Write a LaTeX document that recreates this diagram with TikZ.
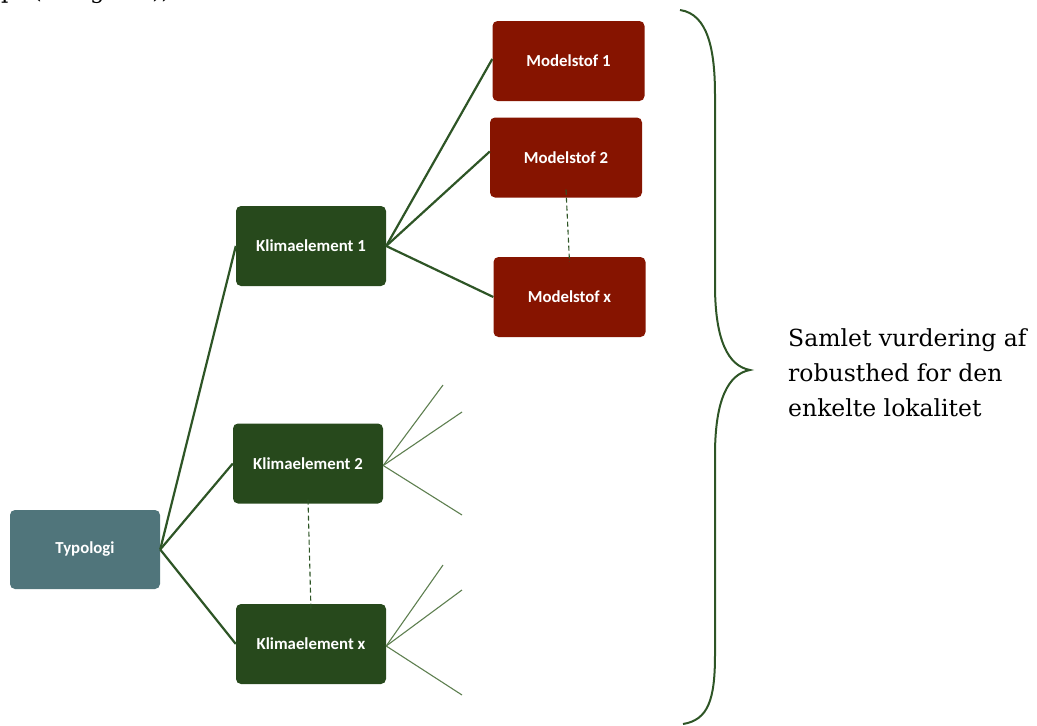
\documentclass[tikz,border=0pt]{standalone}
\usepackage{fontspec}
\newfontfamily\boxfont{Carlito}
\newfontfamily\notefont{DejaVu Serif}
\definecolor{typo}{HTML}{50757B}
\definecolor{klima}{HTML}{27491C}
\definecolor{model}{HTML}{861400}
\definecolor{link}{HTML}{2E5526}
\definecolor{twig}{HTML}{5E7F50}
\tikzset{
  box/.style={rounded corners=5pt, minimum width=150pt, minimum height=80pt,
    text=white, font=\boxfont\bfseries\fontsize{16.8}{19}\selectfont, inner sep=0pt},
  typobox/.style={box, fill=typo, minimum height=79pt},
  klimabox/.style={box, fill=klima},
  modelbox/.style={box, fill=model, minimum width=152pt},
  branch/.style={draw=link, line width=2.2pt},
  twigline/.style={draw=twig, line width=1.1pt},
  gap/.style={draw=link, line width=1.1pt, dash pattern=on 5pt off 3pt},
}
\begin{document}
\begin{tikzpicture}[x=1pt,y=-1pt]
\useasboundingbox (0,0) rectangle (1037,726);

% running text of the page above the figure (only its lower edge is on the page)
\node[anchor=base west, inner sep=0pt, font=\notefont\fontsize{23}{28}\selectfont] (pagetext) at (1,-1.5) {p. (se figur 4)).};

% nodes
\node[typobox] (typ) at (85,549.5) {Typologi};
\node[klimabox] (k1) at (311,246) {Klimaelement 1};
\node[klimabox] (k2) at (308,463.5) {Klimaelement 2};
\node[klimabox] (kx) at (311,644) {Klimaelement x};
\node[modelbox] (m1) at (568.5,61) {Modelstof 1};
\node[modelbox] (m2) at (566,157.5) {Modelstof 2};
\node[modelbox] (mx) at (569.5,297) {Modelstof x};

% branches
\draw[branch] (typ.east) -- (k1.west);
\draw[branch] (typ.east) -- (k2.west);
\draw[branch] (typ.east) -- (kx.west);
\draw[branch] (k1.east) -- ([yshift=2pt]m1.west);
\draw[branch] (k1.east) -- ([yshift=6pt]m2.west);
\draw[branch] (k1.east) -- (mx.west);

% omitted elements
\draw[gap] ([yshift=8pt]m2.south) -- ([yshift=-5pt]mx.north);
\draw[gap] ([yshift=4pt]k2.south) -- ([yshift=-7pt]kx.north);

% open twigs of the other climate elements
\coordinate (t21) at (443,385);
\coordinate (t22) at (462,412);
\coordinate (t23) at (462,515);
\coordinate (tx1) at (443,565);
\coordinate (tx2) at (462,590);
\coordinate (tx3) at (462,695);
\draw[twigline] ([yshift=-2pt]k2.east) -- (t21);
\draw[twigline] ([yshift=-2pt]k2.east) -- (t22);
\draw[twigline] ([yshift=-2pt]k2.east) -- (t23);
\draw[twigline] ([yshift=-2pt]kx.east) -- (tx1);
\draw[twigline] ([yshift=-2pt]kx.east) -- (tx2);
\draw[twigline] ([yshift=-2pt]kx.east) -- (tx3);

% brace
\coordinate (btop) at (680,10);
\coordinate (btip) at (750,370);
\coordinate (bbot) at (683,724);
\draw[draw=link, line width=2pt] (btop) .. controls (708,14) and (715,50) .. (715,95)
  -- (715,285) .. controls (715,340) and (728,366) .. (btip)
  .. controls (728,374) and (715,400) .. (715,455)
  -- (715,655) .. controls (715,700) and (708,720) .. (bbot);

% summary
\node[anchor=west, align=left, inner sep=0pt, font=\notefont\fontsize{23.5}{35}\selectfont] (sum) at (788,373)
  {Samlet vurdering af\\robusthed for den\\enkelte lokalitet};
\end{tikzpicture}
\end{document}
